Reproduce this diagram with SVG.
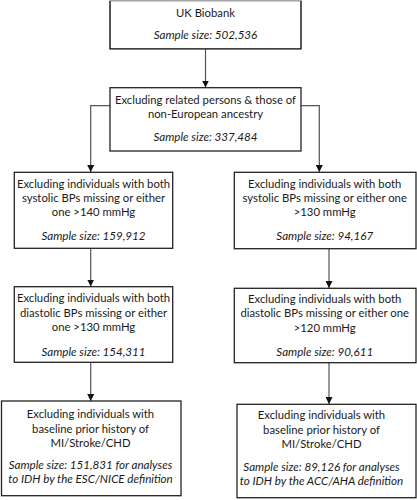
<svg xmlns="http://www.w3.org/2000/svg" width="417" height="500" viewBox="0 0 417 500">
<defs>
<marker id="arr" viewBox="0 0 8 8" refX="8" refY="4" markerWidth="7" markerHeight="7" markerUnits="userSpaceOnUse" orient="auto">
<path d="M0,0 L8,4 L0,8 Z" fill="#111"/>
</marker>
<style>
.box{fill:#fff;stroke:#222;stroke-width:1.3}
.t{font-family:Lato,"Liberation Sans",sans-serif;font-size:11.3px;fill:#1a1a1a;text-anchor:middle}
.i{font-style:italic;font-size:11.6px}
.c{fill:none;stroke:#555;stroke-width:1.2;marker-end:url(#arr)}
</style>
</defs>
<rect width="417" height="500" fill="#fff"/>
<g id="connectors">
<path class="c" d="M205.5,49 V87.5"/>
<path class="c" d="M110,105.7 H90.7 V172"/>
<path class="c" d="M301,105.7 H319.3 V172"/>
<path class="c" d="M90.7,248.3 V286.5"/>
<path class="c" d="M329,248.7 V288"/>
<path class="c" d="M90.7,362.3 V401"/>
<path class="c" d="M329,362.7 V404"/>
</g>
<g id="n1">
<rect class="box" x="110" y="0.8" width="191" height="48" style="stroke:#999"/>
<path d="M110,1 V48.8 H301 V1" fill="none" stroke="#222" stroke-width="1.3"/>
<text class="t" x="205.5" y="16.5">UK Biobank</text>
<text class="t i" x="205.5" y="39">Sample size: 502,536</text>
</g>
<g id="n2">
<rect class="box" x="110" y="87.7" width="191" height="63.3"/>
<text class="t" x="205.5" y="104">Excluding related persons &amp; those of</text>
<text class="t" x="205.5" y="118">non-European ancestry</text>
<text class="t i" x="205.5" y="141">Sample size: 337,484</text>
</g>
<g id="n3">
<rect class="box" x="14.3" y="172.3" width="158.4" height="76"/>
<text class="t" x="93.5" y="188.3">Excluding individuals with both</text>
<text class="t" x="93.5" y="202.3">systolic BPs missing or either</text>
<text class="t" x="93.5" y="216.3">one &gt;140 mmHg</text>
<text class="t i" x="93.5" y="240">Sample size: 159,912</text>
</g>
<g id="n4">
<rect class="box" x="234.3" y="172.3" width="181.7" height="76.4"/>
<text class="t" x="324.7" y="188.3">Excluding individuals with both</text>
<text class="t" x="324.7" y="202.3">systolic BPs missing or either one</text>
<text class="t" x="324.7" y="216.3">&gt;130 mmHg</text>
<text class="t i" x="324.7" y="240">Sample size: 94,167</text>
</g>
<g id="n5">
<rect class="box" x="14.3" y="286.7" width="158.4" height="75.6"/>
<text class="t" x="93.5" y="302.3">Excluding individuals with both</text>
<text class="t" x="93.5" y="316.7">diastolic BPs missing or either</text>
<text class="t" x="93.5" y="331.3">one &gt;130 mmHg</text>
<text class="t i" x="93.5" y="355.7">Sample size: 154,311</text>
</g>
<g id="n6">
<rect class="box" x="234.3" y="288.3" width="181.7" height="74.4"/>
<text class="t" x="324.7" y="303">Excluding individuals with both</text>
<text class="t" x="324.7" y="317.3">diastolic BPs missing or either one</text>
<text class="t" x="324.7" y="331.5">&gt;120 mmHg</text>
<text class="t i" x="324.7" y="355.7">Sample size: 90,611</text>
</g>
<g id="n7">
<rect class="box" x="1.5" y="401" width="179.5" height="94.7"/>
<text class="t" x="90.5" y="418">Excluding individuals with</text>
<text class="t" x="90.5" y="432.5">baseline prior history of</text>
<text class="t" x="90.5" y="446.5">MI/Stroke/CHD</text>
<text class="t i" x="90.5" y="469">Sample size: 151,831 for analyses</text>
<text class="t i" x="90.5" y="482.5">to IDH by the ESC/NICE definition</text>
</g>
<g id="n8">
<rect class="box" x="237" y="404.3" width="179" height="93.4"/>
<text class="t" x="321.5" y="419">Excluding individuals with</text>
<text class="t" x="321.5" y="433.5">baseline prior history of</text>
<text class="t" x="321.5" y="448">MI/Stroke/CHD</text>
<text class="t i" x="321.5" y="470.5">Sample size: 89,126 for analyses</text>
<text class="t i" x="321.5" y="484.5">to IDH by the ACC/AHA definition</text>
</g>
</svg>
